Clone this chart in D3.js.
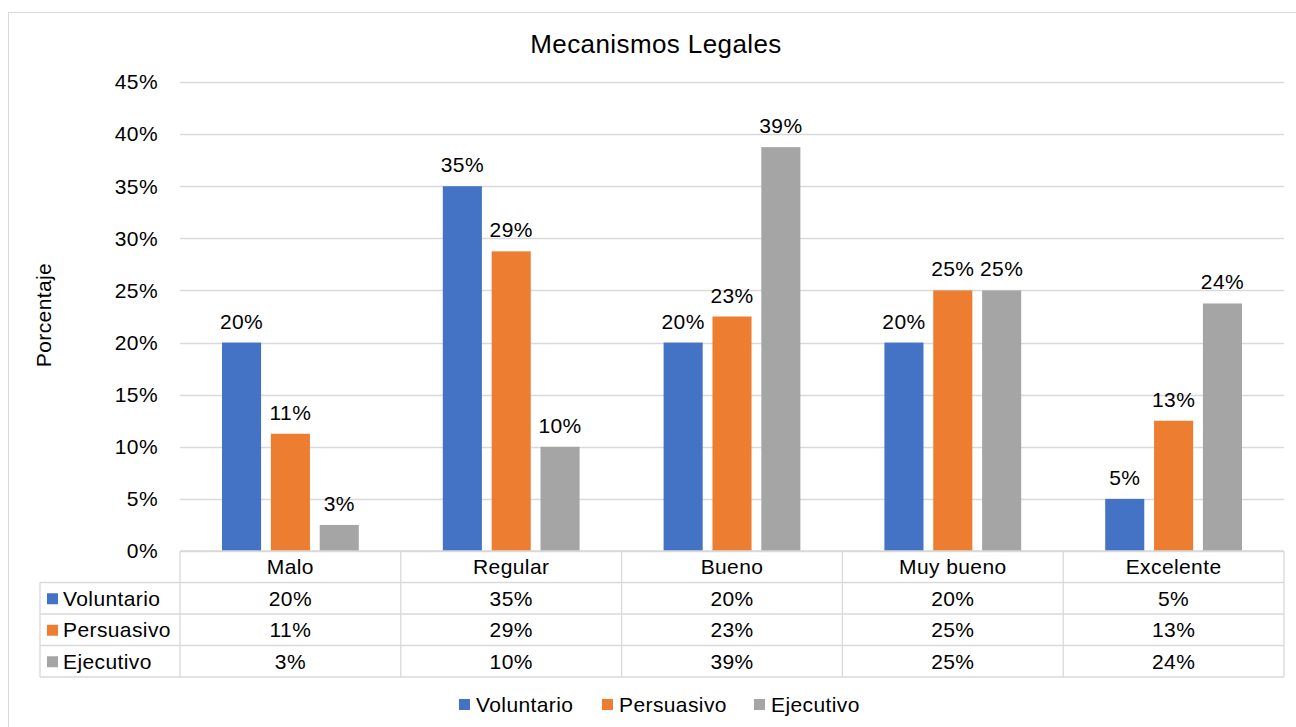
<!DOCTYPE html>
<html lang="es">
<head>
    <meta charset="UTF-8">
    <title>Mecanismos Legales</title>
    <script src="https://d3js.org/d3.v7.min.js"></script>
    <style>
        body { margin: 0; background: #fff; font-family: "Liberation Sans", Arial, sans-serif; }
        svg { display: block; }
        text { fill: #000; font-size: 21px; letter-spacing: 0.4px; }
    </style>
</head>
<body>
    <svg width="1296" height="727"></svg>
    <script>
        // datos (en %)
        const categories = ["Malo", "Regular", "Bueno", "Muy bueno", "Excelente"];
        const seriesNames = ["Voluntario", "Persuasivo", "Ejecutivo"];
        const voluntario = [20, 35, 20, 20, 5];
        const persuasivo = [11.25, 28.75, 22.5, 25, 12.5];
        const ejecutivo = [2.5, 10, 38.75, 25, 23.75];
        const yTicks = [0, 5, 10, 15, 20, 25, 30, 35, 40, 45];
        const colors = ["#4472C4", "#ED7D31", "#A5A5A5"];

        const seriesValues = [voluntario, persuasivo, ejecutivo];
        const fmt = v => Math.round(v) + "%";

        const svg = d3.select("svg");
        const plotLeft = 180, plotRight = 1284, plotTop = 82, plotBottom = 551;
        const tableLeft = 40, rowH = 31.5;

        // marco exterior
        svg.append("rect")
            .attr("x", 8.5).attr("y", 12.5)
            .attr("width", 1300).attr("height", 730)
            .attr("fill", "none").attr("stroke", "#d9d9d9");

        svg.append("text")
            .attr("x", 656).attr("y", 53)
            .attr("text-anchor", "middle")
            .style("font-size", "26px")
            .text("Mecanismos Legales");

        const x = d3.scaleBand().domain(categories).range([plotLeft, plotRight]);
        const xs = d3.scaleBand().domain(seriesNames).range([0, x.bandwidth()])
            .paddingInner(0.2).paddingOuter(0.86);
        const y = d3.scaleLinear().domain([0, 45]).range([plotBottom, plotTop]);

        // lineas de cuadricula
        svg.append("g").selectAll("line")
            .data(yTicks)
            .enter().append("line")
            .attr("x1", plotLeft).attr("x2", plotRight)
            .attr("y1", d => Math.round(y(d)) + 0.5)
            .attr("y2", d => Math.round(y(d)) + 0.5)
            .attr("stroke", "#d9d9d9").attr("stroke-width", 1.3);

        svg.append("g").selectAll("text")
            .data(yTicks)
            .enter().append("text")
            .attr("x", 158)
            .attr("y", d => y(d))
            .attr("dy", "0.35em")
            .attr("text-anchor", "end")
            .text(d => d + "%");

        svg.append("text")
            .attr("transform", "translate(51,315) rotate(-90)")
            .attr("text-anchor", "middle")
            .text("Porcentaje");

        // barras
        seriesValues.forEach((vals, si) => {
            const g = svg.append("g");
            g.selectAll("rect")
                .data(vals)
                .enter().append("rect")
                .attr("x", (d, i) => x(categories[i]) + xs(seriesNames[si]))
                .attr("y", d => y(d))
                .attr("width", xs.bandwidth())
                .attr("height", d => y(0) - y(d))
                .attr("fill", colors[si]);
            g.selectAll("text")
                .data(vals)
                .enter().append("text")
                .attr("x", (d, i) => x(categories[i]) + xs(seriesNames[si]) + xs.bandwidth() / 2)
                .attr("y", d => y(d) - 14)
                .attr("text-anchor", "middle")
                .text(fmt);
        });

        // tabla de datos
        const tbl = svg.append("g");
        const lineColor = "#d9d9d9";
        for (let r = 0; r <= 4; r++) {
            const yy = plotBottom + r * rowH;
            tbl.append("line")
                .attr("x1", r === 0 ? plotLeft : tableLeft).attr("x2", plotRight)
                .attr("y1", yy).attr("y2", yy)
                .attr("stroke", lineColor).attr("stroke-width", 1.3);
        }
        tbl.append("line")
            .attr("x1", tableLeft).attr("x2", tableLeft)
            .attr("y1", plotBottom + rowH).attr("y2", plotBottom + 4 * rowH)
            .attr("stroke", lineColor).attr("stroke-width", 1.3);
        for (let i = 0; i <= categories.length; i++) {
            const xx = plotLeft + i * x.bandwidth();
            tbl.append("line")
                .attr("x1", xx).attr("x2", xx)
                .attr("y1", plotBottom).attr("y2", plotBottom + 4 * rowH)
                .attr("stroke", lineColor).attr("stroke-width", 1.3);
        }

        tbl.selectAll(".cat")
            .data(categories)
            .enter().append("text")
            .attr("class", "cat")
            .attr("x", d => x(d) + x.bandwidth() / 2)
            .attr("y", plotBottom + rowH / 2)
            .attr("dy", "0.35em")
            .attr("text-anchor", "middle")
            .text(d => d);

        seriesValues.forEach((vals, si) => {
            const yy = plotBottom + (si + 1) * rowH + rowH / 2;
            tbl.append("rect")
                .attr("x", 47).attr("y", yy - 5)
                .attr("width", 11).attr("height", 11)
                .attr("fill", colors[si]);
            tbl.append("text")
                .attr("x", 63).attr("y", yy).attr("dy", "0.35em")
                .text(seriesNames[si]);
            tbl.selectAll(".v" + si)
                .data(vals)
                .enter().append("text")
                .attr("class", "v" + si)
                .attr("x", (d, i) => x(categories[i]) + x.bandwidth() / 2)
                .attr("y", yy).attr("dy", "0.35em")
                .attr("text-anchor", "middle")
                .text(fmt);
        });

        // leyenda
        const legendX = [459, 602, 754];
        const lg = svg.append("g");
        seriesNames.forEach((s, i) => {
            lg.append("rect")
                .attr("x", legendX[i]).attr("y", 699)
                .attr("width", 11).attr("height", 11)
                .attr("fill", colors[i]);
            lg.append("text")
                .attr("x", legendX[i] + 17).attr("y", 705).attr("dy", "0.35em")
                .text(s);
        });
    </script>
</body>
</html>
